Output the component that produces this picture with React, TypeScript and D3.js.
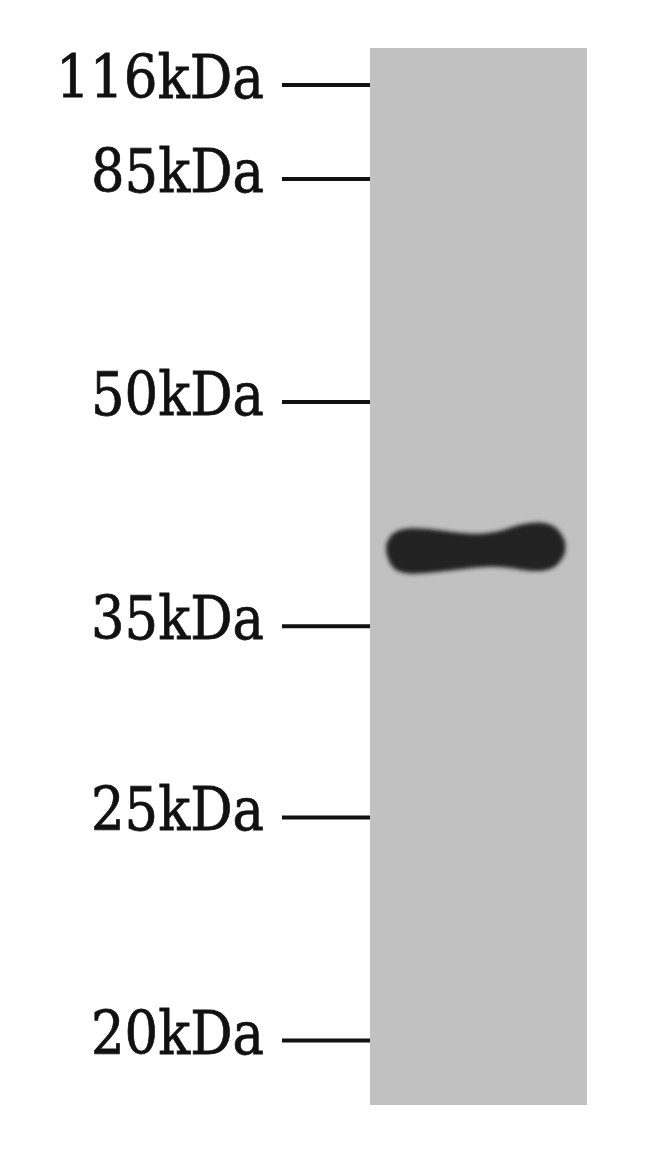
import React from "react";
import * as d3 from "d3";

// Marker ladder (kDa) and their relative migration (fraction of lane length)
const markerLabels = ["116kDa", "85kDa", "50kDa", "35kDa", "25kDa", "20kDa"];
const markerKDa = [116, 85, 50, 35, 25, 20];
const markerMigration = [0.035, 0.124, 0.335, 0.547, 0.728, 0.939];

// Detected band: relative migration and intensity profile across the lane
const bandMigration = [0.473];
// profile along lane width (fraction 0..1) : upper and lower half-thickness (px)
const bandProfileX = [0.075, 0.1, 0.18, 0.32, 0.46, 0.6, 0.69, 0.8, 0.87, 0.9];
const bandProfileTop = [4, 16, 21, 18, 13, 16, 24, 27, 20, 6];
const bandProfileBottom = [5, 22, 27, 24, 20, 18, 22, 24, 18, 4];

const W = 650;
const H = 1154;

export default function App() {
  const laneX0 = 370;
  const laneX1 = 587;
  const laneY0 = 48;
  const laneY1 = 1105;

  const y = d3.scaleLinear().domain([0, 1]).range([laneY0, laneY1]);
  const xLane = d3.scaleLinear().domain([0, 1]).range([laneX0, laneX1]);

  const bandY = y(bandMigration[0]);
  const profile = bandProfileX.map((p, i) => ({
    x: xLane(p),
    t: bandY - bandProfileTop[i],
    b: bandY + bandProfileBottom[i],
  }));
  const area = d3
    .area<{ x: number; t: number; b: number }>()
    .x((d) => d.x)
    .y0((d) => d.t)
    .y1((d) => d.b)
    .curve(d3.curveBasis);
  const bandPath = area(profile) || "";

  return (
    <svg
      width={W}
      height={H}
      style={{ position: "absolute", left: 0, top: 0, background: "#fff" }}
    >
      <defs>
        <filter id="blur" x="-20%" y="-50%" width="140%" height="200%">
          <feGaussianBlur stdDeviation="2.2" />
        </filter>
      </defs>
      <rect x={0} y={0} width={W} height={H} fill="#ffffff" />
      <rect
        x={laneX0}
        y={laneY0}
        width={laneX1 - laneX0}
        height={laneY1 - laneY0}
        fill="#c1c1c1"
      />
      <path d={bandPath} fill="#242424" filter="url(#blur)" />
      {markerKDa.map((k, i) => {
        const yy = y(markerMigration[i]);
        const label = markerLabels[i];
        const len = label.length * 35 - 2;
        return (
          <g key={k}>
            <line
              x1={282}
              x2={laneX0}
              y1={yy}
              y2={yy}
              stroke="#111"
              strokeWidth={4}
            />
            <text
              x={264 - len}
              y={yy + 13}
              textLength={len}
              lengthAdjust="spacingAndGlyphs"
              fontFamily="'DejaVu Serif', serif"
              fontSize={60}
              fill="#111"
              stroke="#111"
              strokeWidth={0.8}
            >
              {label}
            </text>
          </g>
        );
      })}
    </svg>
  );
}
